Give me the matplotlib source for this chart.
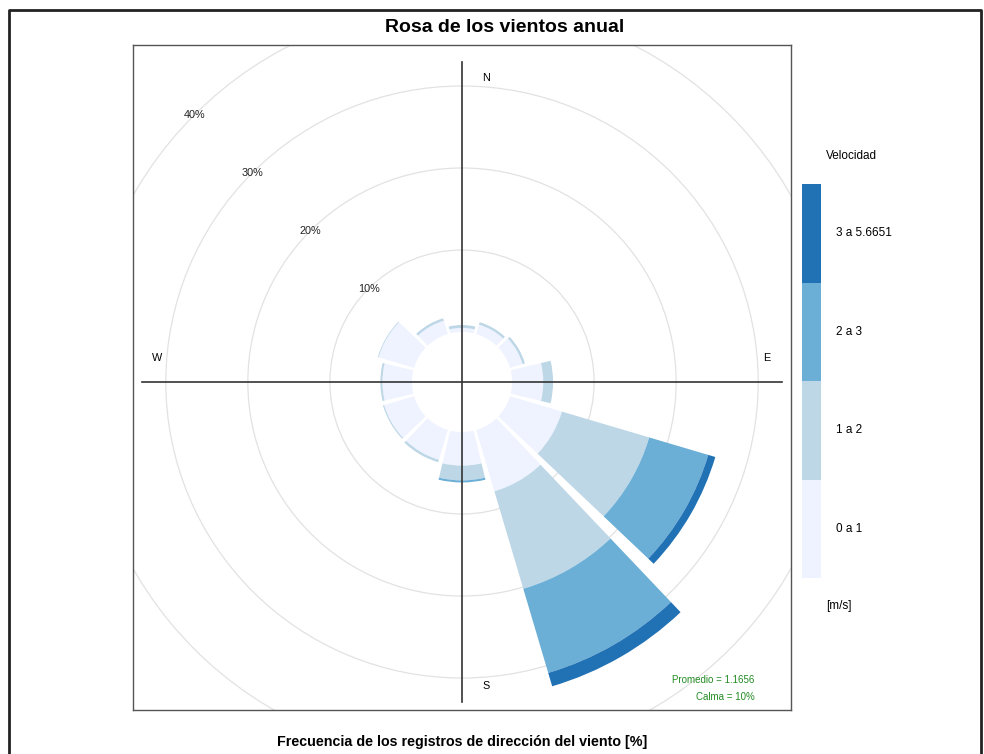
import numpy as np
import matplotlib
matplotlib.use("Agg")
import matplotlib.pyplot as plt
from matplotlib.patches import Wedge, Circle
from matplotlib.lines import Line2D

plt.rcParams['font.family'] = ['Liberation Sans', 'DejaVu Sans']

# wind direction sectors (degrees from north) and frequency [%] per speed bin
direcciones = [0, 30, 60, 90, 120, 150, 180, 210, 240, 270, 300, 330]
vel_0_1 = [0.5, 1.2, 1.6, 3.8, 6.6, 7.8, 4.1, 3.8, 3.8, 3.6, 4.5, 1.7]
vel_1_2 = [0.35, 0.3, 0.3, 1.2, 11.1, 12.4, 1.8, 0.3, 0.15, 0.25, 0.1, 0.3]
vel_2_3 = [0, 0, 0, 0, 7.5, 10.7, 0.25, 0, 0, 0, 0, 0]
vel_3_max = [0, 0, 0, 0, 0.9, 1.7, 0, 0, 0, 0, 0, 0]

bins = [vel_0_1, vel_1_2, vel_2_3, vel_3_max]
etiquetas = ["0 a 1", "1 a 2", "2 a 3", "3 a 5.6651"]
colores = ["#EFF3FF", "#BDD7E7", "#6BAED6", "#2171B5"]
anillos = [10, 20, 30, 40]

offset = 6.1      # hueco central (calma)
ancho = 27        # ancho angular de cada sector

fig = plt.figure(figsize=(9.84, 7.54), dpi=100)
ax = fig.add_axes([133 / 984, 1 - 710 / 754, 658 / 984, 665 / 754])
ax.set_xlim(-40.1, 40.1)
ax.set_ylim(-40.0, 41.1)
ax.set_xticks([])
ax.set_yticks([])
for s in ax.spines.values():
    s.set_color("#555555")
    s.set_linewidth(1.0)

# grid circles + labels
for r in anillos:
    ax.add_patch(Circle((0, 0), offset + r, fill=False, ec="#e2e2e2", lw=0.9, zorder=1))
    a = np.deg2rad(135)
    ax.text((offset + r) * np.cos(a), (offset + r) * np.sin(a), "%d%%" % r,
            fontsize=7.8, color="#222222", ha="center", va="center", zorder=2)

# stacked sectors
for i, d in enumerate(direcciones):
    base = offset
    for vals, c in zip(bins, colores):
        v = vals[i]
        if v <= 0:
            continue
        t1 = 90 - d - ancho / 2
        t2 = 90 - d + ancho / 2
        ax.add_patch(Wedge((0, 0), base + v, t1, t2, width=v, fc=c, ec="none", zorder=3))
        base += v

# cross lines
L = 39
ax.plot([-L, L], [0, 0], color="#333333", lw=1.2, zorder=4)
ax.plot([0, 0], [-L, L], color="#333333", lw=1.2, zorder=4)
ax.text(2.9, 37.1, "N", fontsize=7.8, ha="center", va="center")
ax.text(2.9, -37.1, "S", fontsize=7.8, ha="center", va="center")
ax.text(37.2, 2.9, "E", fontsize=7.8, ha="center", va="center")
ax.text(-37.2, 2.9, "W", fontsize=7.8, ha="center", va="center")

ax.text(0.945, 0.045, "Promedio = 1.1656", transform=ax.transAxes, color="#228B22",
        fontsize=7, ha="right", va="center")
ax.text(0.945, 0.02, "Calma = 10%", transform=ax.transAxes, color="#228B22",
        fontsize=7, ha="right", va="center")

fig.text(505 / 984, 1 - 28 / 754, "Rosa de los vientos anual", fontsize=14,
         fontweight="bold", ha="center", va="center")
fig.text(462 / 984, 1 - 742 / 754, "Frecuencia de los registros de dirección del viento [%]",
         fontsize=10.3, fontweight="bold", ha="center", va="center")

# speed key
kax = fig.add_axes([802 / 984, 1 - 578 / 754, 19 / 984, 394 / 754])
kax.bar([0] * 4, [1] * 4, bottom=range(4), width=1, color=colores, align="center")
kax.set_xlim(-0.5, 0.5)
kax.set_ylim(0, 4)
kax.axis("off")
for k, lab in enumerate(etiquetas):
    kax.text(1.3, k + 0.5, lab, fontsize=8.5, ha="left", va="center",
             transform=kax.transData, clip_on=False)
fig.text(826 / 984, 1 - 156 / 754, "Velocidad", fontsize=8.5, ha="left", va="center")
fig.text(826 / 984, 1 - 606 / 754, "[m/s]", fontsize=8.5, ha="left", va="center")

# outer frame
x0, x1, y1 = 9 / 984, 981 / 984, 1 - 10 / 754
fig.add_artist(Line2D([x0, x0, x1, x1], [0, y1, y1, 0], color="#222222", lw=2,
                      transform=fig.transFigure))

fig.savefig("out.png", dpi=100)
